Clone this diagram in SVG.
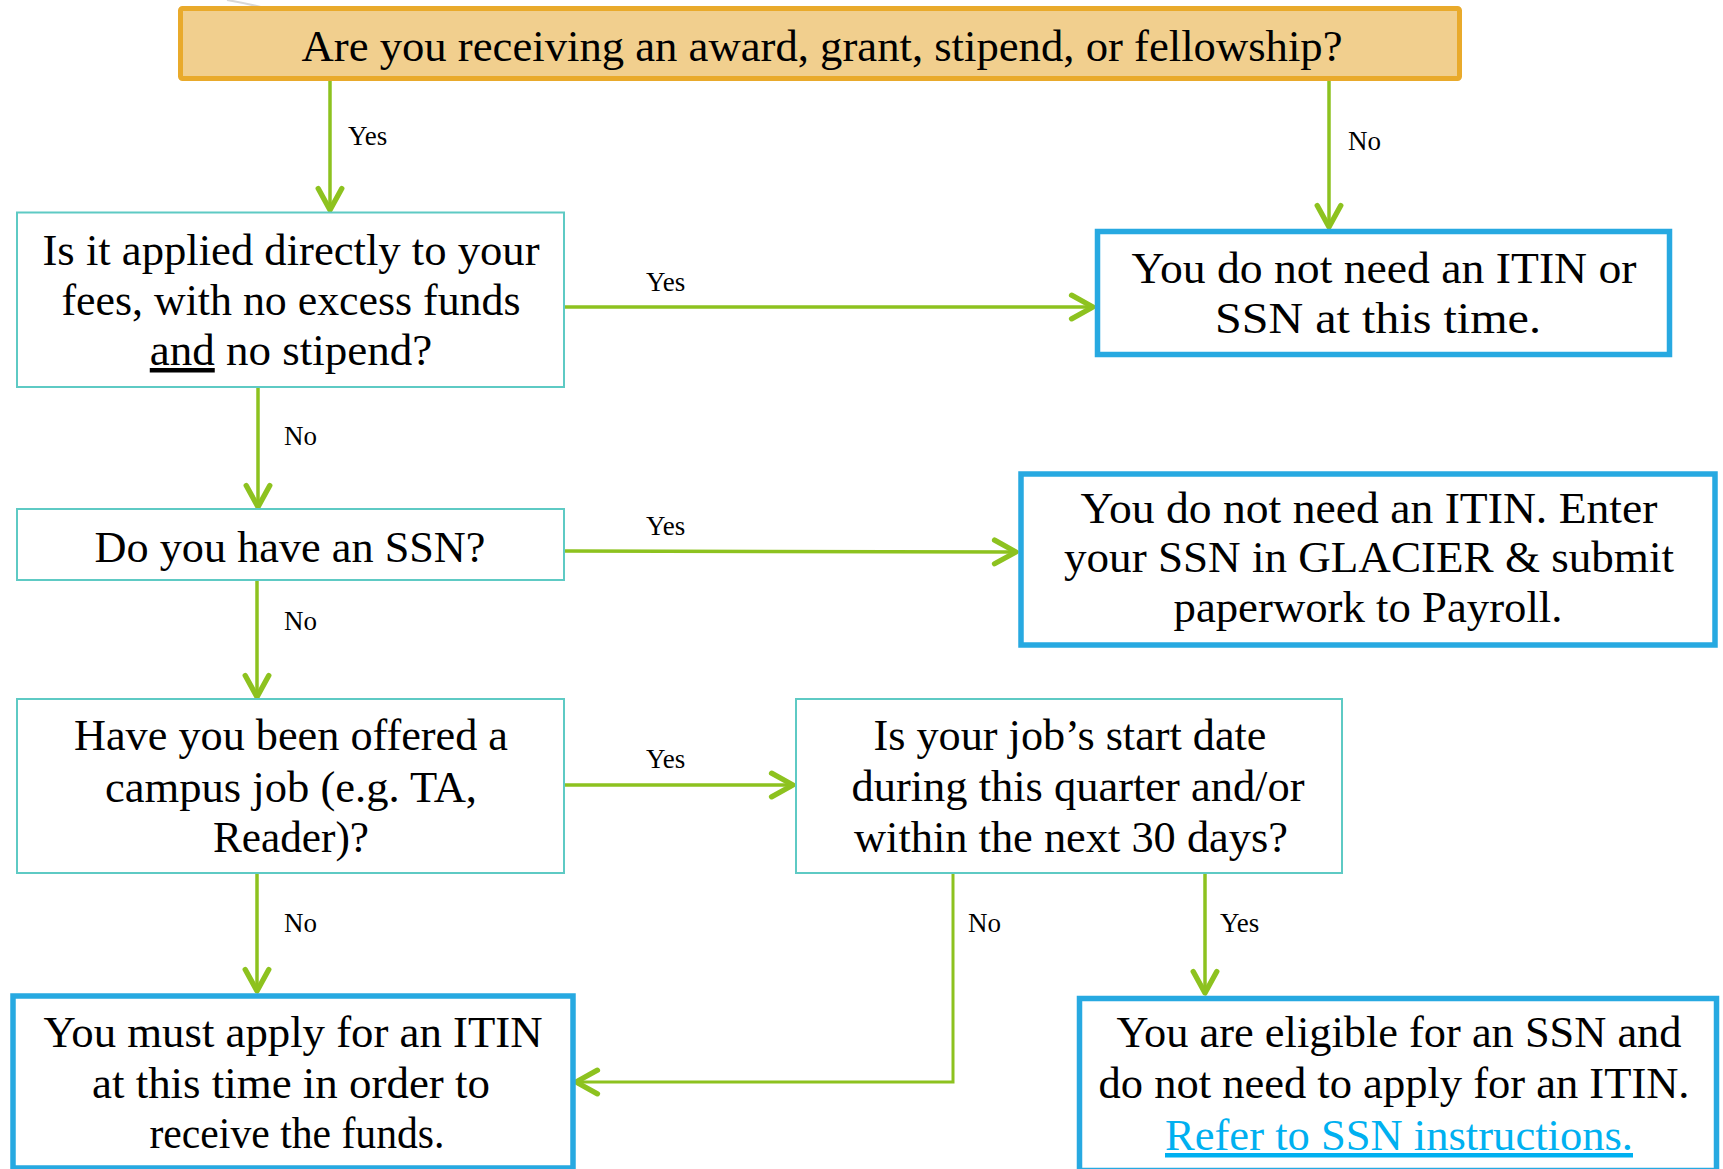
<svg xmlns="http://www.w3.org/2000/svg" width="1723" height="1169" viewBox="0 0 1723 1169">
  <style>
    .t { font-family: "Liberation Serif", "Times New Roman", serif; font-size: 45px; fill: #000; text-anchor: middle; }
    .lbl { font-family: "Liberation Serif", "Times New Roman", serif; font-size: 27px; fill: #000; }
    .q { fill: #fff; stroke: #5ECAC4; stroke-width: 2; }
    .r { fill: #fff; stroke: #27A9E1; stroke-width: 5.5; }
    .c { fill: none; stroke: #8DC21F; stroke-width: 3.5; }
    .link { fill: #00B0F0; text-decoration: underline; }
  </style>
  <defs>
    <marker id="ah" markerWidth="30" markerHeight="30" viewBox="-24 -14 28 28" refX="0" refY="0" orient="auto" markerUnits="userSpaceOnUse">
      <path d="M-20,-11 L0,0 L-20,11" fill="none" stroke="#8DC21F" stroke-width="5" stroke-linecap="round" stroke-linejoin="round"/>
    </marker>
  </defs>
  <rect width="1723" height="1169" fill="#fff"/>
  <path d="M227,0 Q262,6 292,16" fill="none" stroke="#D8D8D8" stroke-width="2"/>

  <g id="connectors">
    <line class="c" x1="330" y1="81" x2="330" y2="210" marker-end="url(#ah)"/>
    <text class="lbl" x="348" y="145">Yes</text>
    <line class="c" x1="1329" y1="81" x2="1329" y2="227" marker-end="url(#ah)"/>
    <text class="lbl" x="1348" y="150">No</text>
    <line class="c" x1="564" y1="307" x2="1093" y2="307" marker-end="url(#ah)"/>
    <text class="lbl" x="646" y="291">Yes</text>
    <line class="c" x1="258" y1="387" x2="258" y2="507" marker-end="url(#ah)"/>
    <text class="lbl" x="284" y="445">No</text>
    <line class="c" x1="564" y1="551" x2="1016" y2="552" marker-end="url(#ah)"/>
    <text class="lbl" x="646" y="535">Yes</text>
    <line class="c" x1="257" y1="580" x2="257" y2="697" marker-end="url(#ah)"/>
    <text class="lbl" x="284" y="630">No</text>
    <line class="c" x1="564" y1="785" x2="793" y2="785" marker-end="url(#ah)"/>
    <text class="lbl" x="646" y="768">Yes</text>
    <line class="c" x1="257" y1="873" x2="257" y2="991" marker-end="url(#ah)"/>
    <text class="lbl" x="284" y="932">No</text>
    <polyline class="c" points="953,873 953,1082 576,1082" marker-end="url(#ah)" style="stroke-width:3"/>
    <text class="lbl" x="968" y="932">No</text>
    <line class="c" x1="1205" y1="873" x2="1205" y2="993" marker-end="url(#ah)"/>
    <text class="lbl" x="1220" y="932">Yes</text>
  </g>

  <g id="n-award">
    <rect x="180.5" y="8.5" width="1279" height="70" rx="2" fill="#F1CF8E" stroke="#E9AA2B" stroke-width="5"/>
    <text class="t" x="822" y="61" textLength="1041" lengthAdjust="spacingAndGlyphs">Are you receiving an award, grant, stipend, or fellowship?</text>
  </g>

  <g id="n-applied">
    <rect class="q" x="17" y="212.5" width="547" height="174.5"/>
    <text class="t" x="291" y="265" textLength="497" lengthAdjust="spacingAndGlyphs">Is it applied directly to your</text>
    <text class="t" x="291" y="315" textLength="459" lengthAdjust="spacingAndGlyphs">fees, with no excess funds</text>
    <text class="t" x="291" y="365"><tspan text-decoration="underline">and</tspan> no stipend?</text>
  </g>

  <g id="n-noneed">
    <rect class="r" x="1097.5" y="231.5" width="572" height="123"/>
    <text class="t" x="1384" y="283" textLength="505" lengthAdjust="spacingAndGlyphs">You do not need an ITIN or</text>
    <text class="t" x="1378" y="333" textLength="326" lengthAdjust="spacingAndGlyphs">SSN at this time.</text>
  </g>

  <g id="n-ssn">
    <rect class="q" x="17" y="509" width="547" height="71"/>
    <text class="t" x="290" y="562" textLength="391" lengthAdjust="spacingAndGlyphs">Do you have an SSN?</text>
  </g>

  <g id="n-enter">
    <rect class="r" x="1021" y="474" width="694" height="171"/>
    <text class="t" x="1369" y="523" textLength="577" lengthAdjust="spacingAndGlyphs">You do not need an ITIN. Enter</text>
    <text class="t" x="1369" y="572" textLength="610" lengthAdjust="spacingAndGlyphs">your SSN in GLACIER &amp; submit</text>
    <text class="t" x="1368" y="622" textLength="389" lengthAdjust="spacingAndGlyphs">paperwork to Payroll.</text>
  </g>

  <g id="n-job">
    <rect class="q" x="17" y="699" width="547" height="174"/>
    <text class="t" x="291" y="750" textLength="434" lengthAdjust="spacingAndGlyphs">Have you been offered a</text>
    <text class="t" x="291" y="802" textLength="372" lengthAdjust="spacingAndGlyphs">campus job (e.g. TA,</text>
    <text class="t" x="291" y="852" textLength="156" lengthAdjust="spacingAndGlyphs">Reader)?</text>
  </g>

  <g id="n-start">
    <rect class="q" x="796" y="699" width="546" height="174"/>
    <text class="t" x="1070" y="750" textLength="393" lengthAdjust="spacingAndGlyphs">Is your job’s start date</text>
    <text class="t" x="1078" y="801" textLength="453" lengthAdjust="spacingAndGlyphs">during this quarter and/or</text>
    <text class="t" x="1071" y="852" textLength="434" lengthAdjust="spacingAndGlyphs">within the next 30 days?</text>
  </g>

  <g id="n-itin">
    <rect class="r" x="13" y="996" width="560" height="172"/>
    <text class="t" x="293" y="1047" textLength="499" lengthAdjust="spacingAndGlyphs">You must apply for an ITIN</text>
    <text class="t" x="291" y="1098" textLength="398" lengthAdjust="spacingAndGlyphs">at this time in order to</text>
    <text class="t" x="297" y="1148" textLength="295" lengthAdjust="spacingAndGlyphs">receive the funds.</text>
  </g>

  <g id="n-eligible">
    <rect class="r" x="1079.5" y="998.5" width="637" height="172"/>
    <text class="t" x="1399" y="1047" textLength="565" lengthAdjust="spacingAndGlyphs">You are eligible for an SSN and</text>
    <text class="t" x="1394" y="1098" textLength="591" lengthAdjust="spacingAndGlyphs">do not need to apply for an ITIN.</text>
    <text class="t link" x="1399" y="1150" textLength="468" lengthAdjust="spacingAndGlyphs">Refer to SSN instructions.</text>
  </g>
</svg>
